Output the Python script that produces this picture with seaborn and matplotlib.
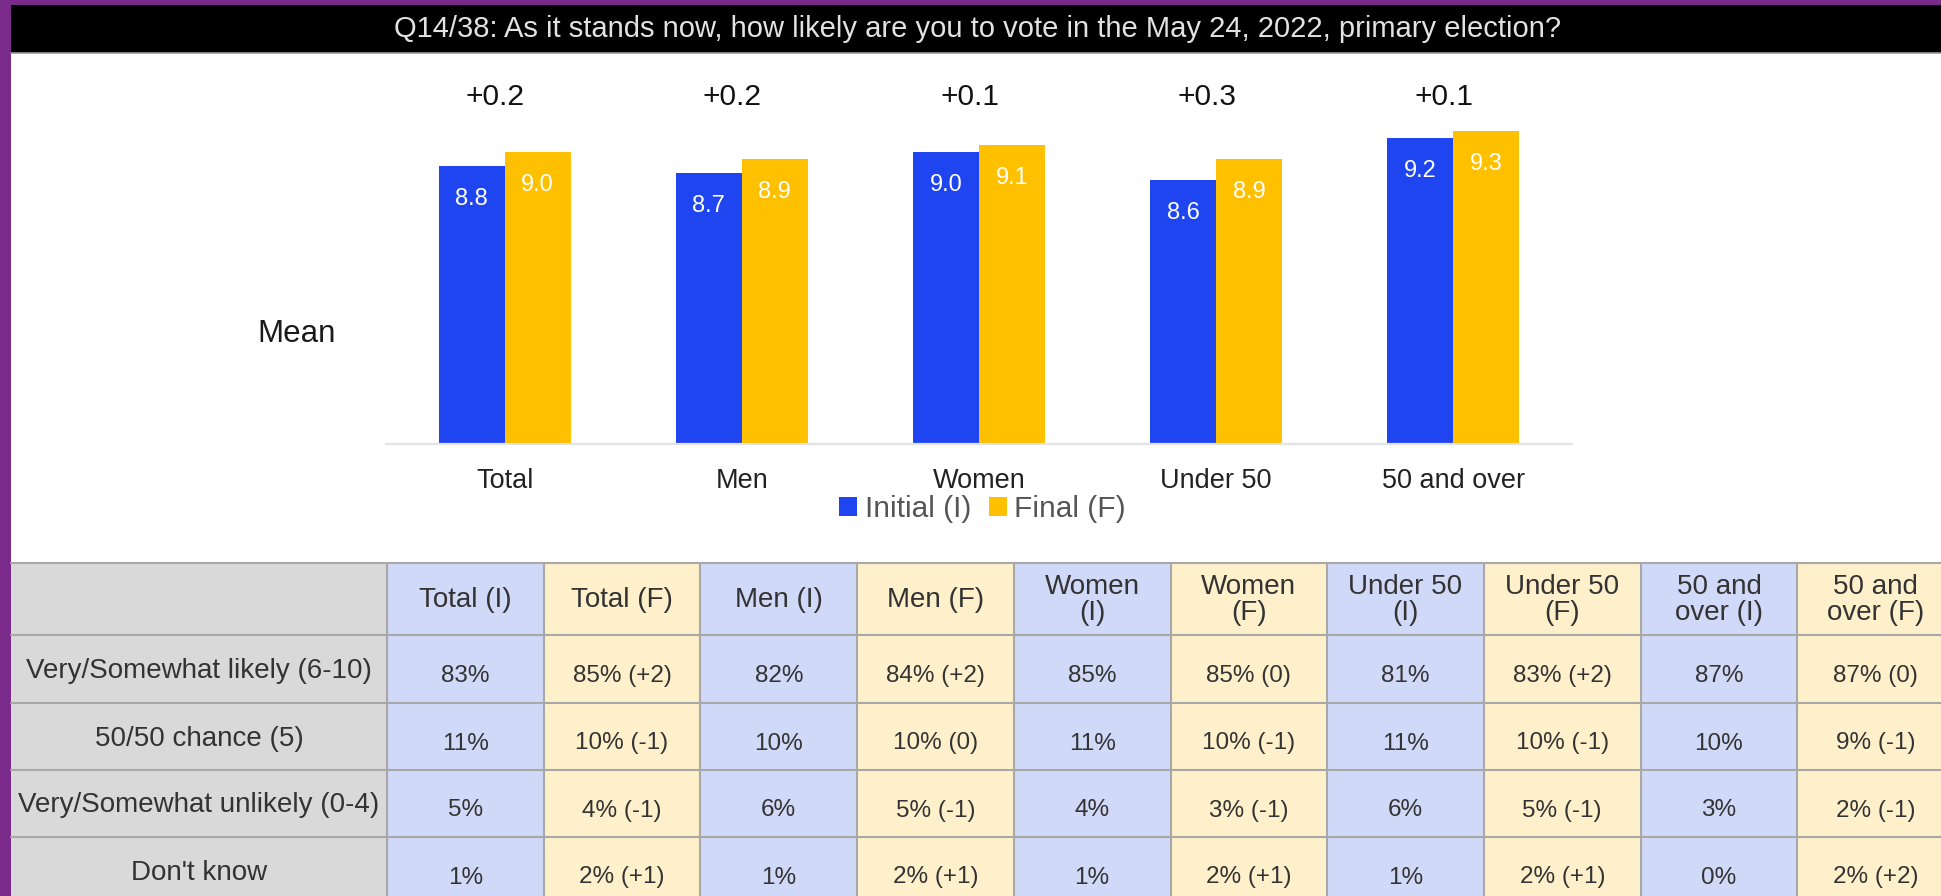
import numpy as np
import pandas as pd
import matplotlib
matplotlib.use("Agg")
import matplotlib.pyplot as plt
import matplotlib.transforms as mtransforms
from matplotlib.patches import Rectangle
import seaborn as sns

# ---------------- data ----------------
groups = ["Total", "Men", "Women", "Under 50", "50 and over"]
waves = ["Initial (I)", "Final (F)"]
initial_mean = [8.8, 8.7, 9.0, 8.6, 9.2]
final_mean = [9.0, 8.9, 9.1, 8.9, 9.3]
mean_change = ["+0.2", "+0.2", "+0.1", "+0.3", "+0.1"]

title = "Q14/38: As it stands now, how likely are you to vote in the May 24, 2022, primary election?"

col_headers = ["Total (I)", "Total (F)", "Men (I)", "Men (F)", "Women\n(I)", "Women\n(F)",
               "Under 50\n(I)", "Under 50\n(F)", "50 and\nover (I)", "50 and\nover (F)"]
row_labels = ["Very/Somewhat likely (6-10)", "50/50 chance (5)",
              "Very/Somewhat unlikely (0-4)", "Don't know"]
likely_initial = [83, 82, 85, 81, 87]
likely_final = [85, 84, 85, 83, 87]
chance_initial = [11, 10, 11, 11, 10]
chance_final = [10, 10, 10, 10, 9]
unlikely_initial = [5, 6, 4, 6, 3]
unlikely_final = [4, 5, 3, 5, 2]
dontknow_initial = [1, 1, 1, 1, 0]
dontknow_final = [2, 2, 2, 2, 2]

# ---------------- style ----------------
BLUE = "#1F45F0"
YELLOW = "#FFC000"
PURPLE = "#7A2A8B"
LAV = "#D0D9F8"
CREAM = "#FFF0CC"
GRAY = "#D9D9D9"
GRID = "#A8A8A8"
TXT = "#333333"

sns.set_style("white")
plt.rcParams["font.family"] = ["Liberation Sans", "DejaVu Sans"]

W, H = 1941, 896
fig = plt.figure(figsize=(W / 100, H / 100), dpi=100, facecolor=PURPLE)

# background overlay axes in pixel coordinates
bg = fig.add_axes([0, 0, 1, 1], zorder=0)
bg.set_xlim(0, W)
bg.set_ylim(H, 0)
bg.axis("off")
bg.add_patch(Rectangle((11, 5), W, H, facecolor="white", edgecolor="none"))
bg.add_patch(Rectangle((11, 5), W, 48, facecolor="black", edgecolor="none"))
bg.plot([11, W], [53, 53], color="#9A9A9A", lw=1.2)
bg.text(978, 29, title, ha="center", va="center", color="#E2E2E2", fontsize=21)
bg.text(297, 334, "Mean", ha="center", va="center", color="#1A1A1A", fontsize=22.5)

# ---------------- bar chart ----------------
df = pd.DataFrame({
    "group": groups * 2,
    "wave": [waves[0]] * len(groups) + [waves[1]] * len(groups),
    "mean": initial_mean + final_mean,
})

ax_l, ax_r, ax_b, ax_t = 386, 1572, 444, 63
ax = fig.add_axes([ax_l / W, 1 - ax_b / H, (ax_r - ax_l) / W, (ax_b - ax_t) / H], zorder=2)
ax.set_facecolor("none")
sns.barplot(data=df, x="group", y="mean", hue="wave", palette=[BLUE, YELLOW],
            saturation=1, width=0.556, ax=ax, order=groups, hue_order=waves,
            linewidth=0, edgecolor="none")
ax.set_ylim(4.83, 10.27)
ax.set_xlim(-0.5, 4.5)
ax.set_yticks([])
ax.set_xlabel("")
ax.set_ylabel("")
for s in ["top", "right", "left"]:
    ax.spines[s].set_visible(False)
ax.spines["bottom"].set_color("#E3E3E3")
ax.spines["bottom"].set_linewidth(1.6)
ax.tick_params(axis="x", length=0, pad=17, labelsize=19.5, labelcolor="#222222")

for cont in ax.containers:
    for p in cont.patches:
        h = p.get_height()
        ax.annotate(f"{h:.1f}", (p.get_x() + p.get_width() / 2, h), xytext=(0, -24),
                    textcoords="offset points", ha="center", va="center",
                    color="white", fontsize=17)

trans = mtransforms.blended_transform_factory(ax.transData, ax.transAxes)
for i, d in enumerate(mean_change):
    ax.text(i - 0.04, 0.911, d, transform=trans, ha="center", va="center",
            fontsize=21.5, color="#111111")

sns.move_legend(ax, "center", bbox_to_anchor=(0.503, -0.17), ncol=2, frameon=False,
                title=None, fontsize=21.5, handlelength=0.6, handleheight=0.6,
                handletextpad=0.25, columnspacing=0.6, labelcolor="#555555")

# ---------------- table ----------------
def fmt_change(a, b):
    d = b - a
    if d > 0:
        return f"{b}% (+{d})"
    if d < 0:
        return f"{b}% ({d})"
    return f"{b}% (0)"

pairs = [(likely_initial, likely_final), (chance_initial, chance_final),
         (unlikely_initial, unlikely_final), (dontknow_initial, dontknow_final)]
cells = []
for ini, fin in pairs:
    row = []
    for a, b in zip(ini, fin):
        row.append(f"{a}%")
        row.append(fmt_change(a, b))
    cells.append(row)

label_w = 376
col_w = 156.7
x_edges = [11, 11 + label_w] + [11 + label_w + col_w * (k + 1) for k in range(len(col_headers))]
y_edges = [563, 635, 703, 770, 837, 904]

for r in range(len(y_edges) - 1):
    y0, y1 = y_edges[r], y_edges[r + 1]
    bg.add_patch(Rectangle((x_edges[0], y0), x_edges[1] - x_edges[0], y1 - y0,
                           facecolor=GRAY, edgecolor="none"))
    for c in range(len(col_headers)):
        xa, xb = x_edges[c + 1], x_edges[c + 2]
        bg.add_patch(Rectangle((xa, y0), xb - xa, y1 - y0,
                               facecolor=LAV if c % 2 == 0 else CREAM, edgecolor="none"))

for x in x_edges[1:]:
    bg.plot([x, x], [y_edges[0], H], color=GRID, lw=1.5)
for y in y_edges[:-1]:
    bg.plot([11, W], [y, y], color=GRID, lw=1.5)

for c, hdr in enumerate(col_headers):
    xc = (x_edges[c + 1] + x_edges[c + 2]) / 2
    bg.text(xc, (y_edges[0] + y_edges[1]) / 2 + 1, hdr, ha="center", va="center",
            fontsize=20, color=TXT, linespacing=1.0)

for r, lab in enumerate(row_labels):
    yc = (y_edges[r + 1] + y_edges[r + 2]) / 2
    bg.text((x_edges[0] + x_edges[1]) / 2, yc + 2, lab, ha="center", va="center",
            fontsize=20, color=TXT)
    for c, val in enumerate(cells[r]):
        xc = (x_edges[c + 1] + x_edges[c + 2]) / 2
        bg.text(xc, yc + 7, val, ha="center", va="center", fontsize=17.5, color=TXT)

fig.savefig("out.png", dpi=100, facecolor=PURPLE)
